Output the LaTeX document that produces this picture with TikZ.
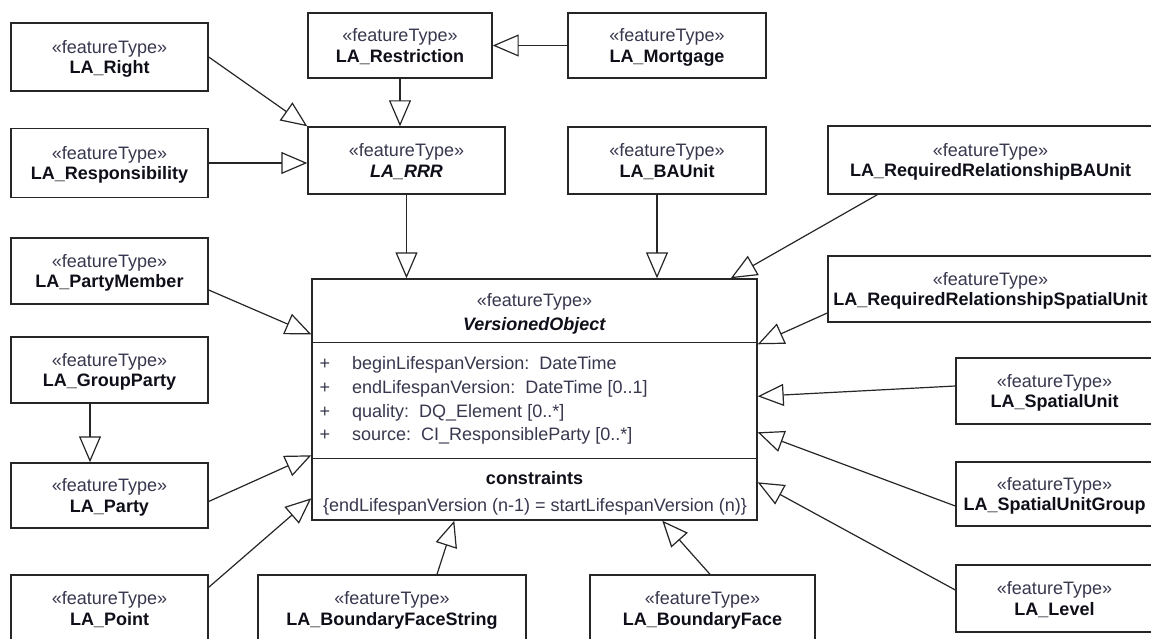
\documentclass[tikz,border=0pt]{standalone}
\usepackage{fontspec}
\setmainfont{Liberation Sans}
\usetikzlibrary{arrows.meta,calc}
\definecolor{stc}{RGB}{55,55,78}
\definecolor{nmc}{RGB}{15,15,25}
\definecolor{lnc}{RGB}{38,38,38}
\newcommand{\stt}{{\color{stc}«featureType»}}
\begin{document}
\begin{tikzpicture}[x=1pt,y=-1pt,
  ft/.style={draw=lnc, line width=1.4pt, fill=white, inner sep=0pt, align=center,
    text depth=0pt, font=\fontsize{18}{20.5}\selectfont, text=nmc},
  gen/.style={draw=lnc, line width=1.2pt, -{Triangle[open,length=26pt,width=22pt]}},
  txt/.style={inner sep=0pt, font=\fontsize{18}{21}\selectfont},
  sep/.style={draw=lnc, line width=1.4pt}
]
\useasboundingbox (0,0) rectangle (1151,639);
\clip (0,0) rectangle (1151,639);
\fill[white] (0,0) rectangle (1151,639);

% left column
\node[ft, minimum width=197, minimum height=68] (right) at (109.5,57) {\stt\\\textbf{LA\_Right}};
\node[ft, minimum width=197, minimum height=69] (resp) at (109.5,163) {\stt\\\textbf{LA\_Responsibility}};
\node[ft, minimum width=197, minimum height=66] (pm) at (109.5,271) {\stt\\\textbf{LA\_PartyMember}};
\node[ft, minimum width=197, minimum height=66] (gp) at (109.5,370) {\stt\\\textbf{LA\_GroupParty}};
\node[ft, minimum width=197, minimum height=65] (party) at (109.5,495.5) {\stt\\\textbf{LA\_Party}};
\node[ft, minimum width=197, minimum height=67] (point) at (109.5,608.5) {\stt\\\textbf{LA\_Point}};

% top
\node[ft, minimum width=184, minimum height=65] (restr) at (400,45.5) {\stt\\\textbf{LA\_Restriction}};
\node[ft, minimum width=198, minimum height=65] (mort) at (667,45.5) {\stt\\\textbf{LA\_Mortgage}};
\node[ft, minimum width=197, minimum height=67] (rrr) at (406.5,160.5) {\stt\\\textbf{\textit{LA\_RRR}}};
\node[ft, minimum width=198, minimum height=67] (baunit) at (667,160.5) {\stt\\\textbf{LA\_BAUnit}};
\node[ft, minimum width=325, minimum height=68] (rrbau) at (990.5,160) {\stt\\\textbf{LA\_RequiredRelationshipBAUnit}};

% right column
\node[ft, minimum width=325, minimum height=66] (rrsu) at (990.5,289) {\stt\\\textbf{LA\_RequiredRelationshipSpatialUnit}};
\node[ft, minimum width=197, minimum height=66] (su) at (1054.5,391) {\stt\\\textbf{LA\_SpatialUnit}};
\node[ft, minimum width=197, minimum height=64] (sug) at (1054.5,494) {\stt\\\textbf{LA\_SpatialUnitGroup}};
\node[ft, minimum width=197, minimum height=67] (level) at (1054.5,598.5) {\stt\\\textbf{LA\_Level}};

% bottom
\node[ft, minimum width=268, minimum height=67] (bfs) at (392,608.5) {\stt\\\textbf{LA\_BoundaryFaceString}};
\node[ft, minimum width=225, minimum height=67] (bf) at (702.5,608.5) {\stt\\\textbf{LA\_BoundaryFace}};

% central class
\node[draw=lnc, line width=1.4pt, fill=white, minimum width=445, minimum height=241, inner sep=0pt] (vo) at (534.5,399.5) {};
\draw[sep] ($(vo.north west)+(0,64)$) -- ($(vo.north east)+(0,64)$);
\draw[sep] ($(vo.north west)+(0,180)$) -- ($(vo.north east)+(0,180)$);
\node[txt, anchor=base, text=stc] (vost) at (534.5,306.7) {«featureType»};
\node[txt, anchor=base, text=nmc] (voname) at (534.5,330.7) {\textbf{\textit{VersionedObject}}};
\node[txt, anchor=base, text=stc] (p1) at (325,369) {+};
\node[txt, anchor=base, text=stc] (p2) at (325,393) {+};
\node[txt, anchor=base, text=stc] (p3) at (325,417) {+};
\node[txt, anchor=base, text=stc] (p4) at (325,440) {+};
\node[txt, anchor=base west, text=stc] (a1) at (352,369) {beginLifespanVersion:\ \ DateTime};
\node[txt, anchor=base west, text=stc] (a2) at (352,393) {endLifespanVersion:\ \ DateTime [0..1]};
\node[txt, anchor=base west, text=stc] (a3) at (352,417) {quality:\ \ DQ\_Element [0..*]};
\node[txt, anchor=base west, text=stc] (a4) at (352,440) {source:\ \ CI\_ResponsibleParty [0..*]};
\node[txt, anchor=base, text=nmc] (cst) at (534.5,484.3) {\textbf{constraints}};
\node[txt, anchor=base, text=stc] (ctx) at (535,511) {\{endLifespanVersion (n-1) = startLifespanVersion (n)\}};

% target points on VersionedObject border
\coordinate (tRB) at ($(vo.north east)+(-27,0)$);
\coordinate (tPM) at ($(vo.north west)+(0,56)$);
\coordinate (tPA) at ($(vo.north west)+(0,177)$);
\coordinate (tPO) at ($(vo.north west)+(0,220)$);
\coordinate (tBS) at ($(vo.south west)+(143,0)$);
\coordinate (tBF) at ($(vo.south west)+(351,0)$);
\coordinate (tRS) at ($(vo.north east)+(0,66)$);
\coordinate (tSU) at ($(vo.north east)+(0,118)$);
\coordinate (tSG) at ($(vo.north east)+(0,154)$);
\coordinate (tLV) at ($(vo.north east)+(0,204)$);

% generalizations
\draw[gen] (right.east) -- (rrr.north west);
\draw[gen] (resp.east) -- (resp.east -| rrr.west);
\draw[gen] (restr.south) -- (restr.south |- rrr.north);
\draw[gen] (mort.west) -- (mort.west -| restr.east);
\draw[gen] (rrr.south) -- (rrr.south |- vo.north);
\draw[gen] ($(baunit.south)+(-10,0)$) coordinate (sBA) -- (sBA |- vo.north);
\draw[gen] ($(rrbau.south west)+(50,0)$) -- (tRB);
\draw[gen] ($(pm.east)+(0,19)$) -- (tPM);
\draw[gen] ($(gp.south)+(-19.5,0)$) coordinate (sGP) -- (sGP |- party.north);
\draw[gen] ($(party.east)+(0,6)$) -- (tPA);
\draw[gen] ($(point.north east)+(0,13)$) -- (tPO);
\draw[gen] ($(bfs.north)+(45,0)$) -- (tBS);
\draw[gen] ($(bf.north)+(7.5,0)$) -- (tBF);
\draw[gen] ($(rrsu.west)+(0,24)$) -- (tRS);
\draw[gen] ($(su.west)+(0,-5)$) -- (tSU);
\draw[gen] ($(sug.west)+(0,12)$) -- (tSG);
\draw[gen] ($(level.west)+(0,-8.5)$) -- (tLV);
\end{tikzpicture}
\end{document}
